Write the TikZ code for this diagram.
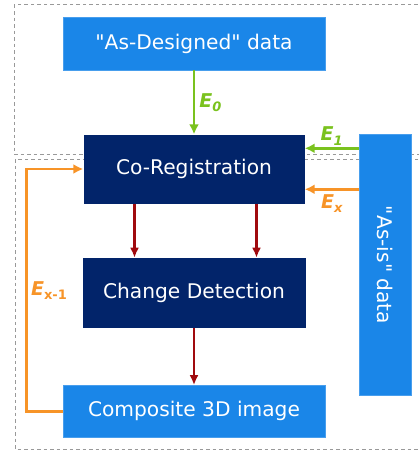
\documentclass[tikz,border=0pt]{standalone}
\usepackage{fontspec}
\setmainfont{DejaVu Sans}
\usetikzlibrary{positioning,calc,arrows.meta}
\definecolor{lightblue}{RGB}{26,134,232}
\definecolor{darknavy}{RGB}{2,36,106}
\definecolor{errgreen}{RGB}{122,194,30}
\definecolor{errorange}{RGB}{247,148,40}
\definecolor{flowred}{RGB}{160,10,14}
\newcommand{\errlabel}[1]{\textbf{\textit{E}}\raisebox{-0.4ex}{\fontsize{13}{14}\selectfont\bfseries #1}}

\begin{document}
\begin{tikzpicture}[
    x=1pt,y=1pt,
    datanode/.style={rectangle,fill=lightblue,draw=lightblue!80!white,line width=0.6pt,text=white,
      font=\fontsize{20.2}{23}\selectfont,inner sep=0pt},
    procnode/.style={rectangle,fill=darknavy,text=white,
      font=\fontsize{20.2}{23}\selectfont,inner sep=0pt},
    greenarrow/.style={-{Latex[length=10pt,width=10pt]},errgreen,line width=2.6pt},
    orangearrow/.style={-{Latex[length=10pt,width=10pt]},errorange,line width=2.8pt},
    redarrow/.style={-{Latex[length=10pt,width=9pt]},flowred,line width=2.3pt},
    errtext/.style={font=\fontsize{19}{22}\selectfont,inner sep=1pt},
    zone/.style={draw=gray!80,dashed,dash pattern=on 3.5pt off 3pt,line width=0.7pt}]
    \useasboundingbox (0,0) rectangle (418,-450);

    % dashed zones
    \draw[zone] (14,-4.5) rectangle (440,-154);
    \draw[zone] (15,-159) rectangle (440,-449);

    % blocks
    \node[datanode,minimum width=262pt,minimum height=53pt] (design) at (194,-43.5) {\textquotedbl As-Designed\textquotedbl{} data};
    \node[procnode,minimum width=221pt,minimum height=69pt] (coreg) [below=64pt of design] {Co-Registration};
    \node[procnode,minimum width=223pt,minimum height=70pt] (detect) [below=54pt of coreg] {Change Detection};
    \node[datanode,minimum width=262pt,minimum height=52pt] (composite) [below=57pt of detect] {Composite 3D image};
    \node[datanode,minimum width=52pt,minimum height=261pt,anchor=north west] (asis) at ($(coreg.north east)+(54pt,0)$) {};
    \node[rotate=-90,text=white,font=\fontsize{20.2}{23}\selectfont] (asistext) at (asis.center) {\textquotedbl As-is\textquotedbl{} data};

    \coordinate (e1a) at ($(asis.north west)+(0,-14pt)$);
    \coordinate (exa) at ($(asis.north west)+(0,-55pt)$);
    \coordinate (cdl) at ($(coreg.south)+(-59.5pt,0)$);
    \coordinate (cdr) at ($(coreg.south)+(62.5pt,0)$);

    % error inputs
    \draw[greenarrow] (design) -- node[errtext,right=3pt,text=errgreen] {\errlabel{\itshape 0}} (coreg);
    \draw[greenarrow] (e1a) -- node[errtext,above=1pt,text=errgreen] {\errlabel{\itshape 1}} (e1a -| coreg.east);
    \draw[orangearrow] (exa) -- node[errtext,below=3pt,text=errorange] {\errlabel{\itshape x}} (exa -| coreg.east);
    \draw[orangearrow] (composite.west) -- ++(-36pt,0) |- node[pos=0.25,errtext,right=2pt,text=errorange] {\errlabel{x-1}} (coreg.west);

    % processing flow
    \draw[redarrow] (cdl) -- (cdl |- detect.north);
    \draw[redarrow] (cdr) -- (cdr |- detect.north);
    \draw[redarrow] (detect.south -| composite.north) -- (composite.north);
\end{tikzpicture}
\end{document}
